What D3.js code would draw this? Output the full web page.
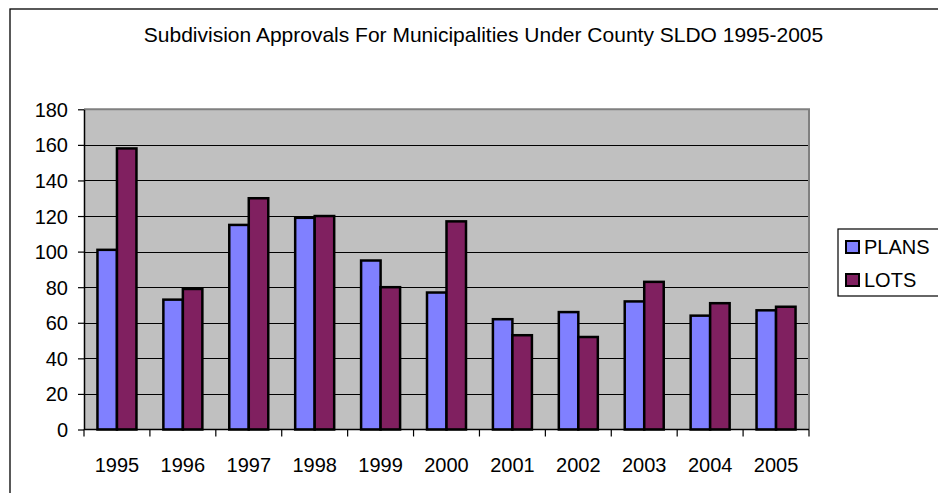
<!DOCTYPE html>
<html>
<head>
<meta charset="utf-8">
<script src="https://cdn.jsdelivr.net/npm/d3@7/dist/d3.min.js"></script>
<style>
  html, body { margin: 0; padding: 0; background: #fff; }
  svg { display: block; }
  text { font-family: "Liberation Sans", Arial, sans-serif; fill: #000; }
</style>
</head>
<body>
<svg id="chart" width="938" height="493"></svg>
<script>
const title = "Subdivision Approvals For Municipalities Under County SLDO 1995-2005";
const years = ["1995","1996","1997","1998","1999","2000","2001","2002","2003","2004","2005"];
const plans = [101, 73, 115, 119, 95, 77, 62, 66, 72, 64, 67];
const lots  = [158, 79, 130, 120, 80, 117, 53, 52, 83, 71, 69];
const seriesNames = ["PLANS", "LOTS"];
const seriesColors = ["#8080FF", "#802060"];
const yTicks = [0, 20, 40, 60, 80, 100, 120, 140, 160, 180];

const svg = d3.select("#chart");
const plot = { left: 84, right: 809, top: 109.3, bottom: 429.5 };

// outer chart frame (extends past right/bottom edge)
svg.append("rect").attr("x", 10).attr("y", 9).attr("width", 1200).attr("height", 1200)
  .attr("fill", "#fff").attr("stroke", "#000").attr("stroke-width", 1.3);

svg.append("text").attr("x", 483.5).attr("y", 42).attr("text-anchor", "middle")
  .style("font-size", "21px").text(title);

const x = d3.scaleBand().domain(years).range([plot.left, plot.right]);
const y = d3.scaleLinear().domain([0, 180]).range([plot.bottom, plot.top]);

// plot background
svg.append("rect").attr("x", plot.left).attr("y", plot.top)
  .attr("width", plot.right - plot.left).attr("height", plot.bottom - plot.top)
  .attr("fill", "#C0C0C0");

// gridlines
svg.append("g").selectAll("line").data(yTicks.filter(d => d > 0 && d < 180)).join("line")
  .attr("x1", plot.left).attr("x2", plot.right)
  .attr("y1", d => Math.round(y(d)) + 0.5).attr("y2", d => Math.round(y(d)) + 0.5)
  .attr("stroke", "#000").attr("stroke-width", 1);

// plot border (top/right gray)
svg.append("path")
  .attr("d", `M${plot.left},${plot.top}H${plot.right}V${plot.bottom}`)
  .attr("fill", "none").attr("stroke", "#808080").attr("stroke-width", 2);

// bars
const barW = 19.5;
const data = years.map((yr, i) => ({ yr, vals: [plans[i], lots[i]] }));
const groups = svg.append("g").selectAll("g").data(data).join("g");
groups.selectAll("rect").data(d => d.vals.map((v, k) => ({ yr: d.yr, v, k }))).join("rect")
  .attr("x", d => x(d.yr) + x.bandwidth() / 2 - barW + d.k * barW)
  .attr("y", d => y(d.v))
  .attr("width", barW)
  .attr("height", d => y(0) - y(d.v))
  .attr("fill", d => seriesColors[d.k])
  .attr("stroke", "#000").attr("stroke-width", 2.5);

// y axis
const yAxis = d3.axisLeft(y).tickValues(yTicks).tickSize(6).tickPadding(10).tickSizeOuter(0);
const gy = svg.append("g").attr("transform", `translate(${plot.left},0)`).call(yAxis);
gy.select(".domain").attr("stroke", "#000").attr("stroke-width", 1.5);
gy.selectAll(".tick line").attr("stroke", "#000").attr("stroke-width", 1.2);
gy.selectAll(".tick text").style("font-size", "20px").attr("font-family", null).attr("dy", "0.35em");

// x axis
const xAxis = d3.axisBottom(x).tickSize(0).tickPadding(28);
const gx = svg.append("g").attr("transform", `translate(0,${plot.bottom})`).call(xAxis);
gx.select(".domain").attr("d", `M${plot.left},0H${plot.right}`).attr("stroke", "#000").attr("stroke-width", 1.5);
gx.selectAll(".tick text").style("font-size", "20px").attr("font-family", null);
// category boundary tick marks
const bounds = years.map(yr => x(yr)).concat([plot.right]);
gx.append("g").selectAll("line").data(bounds).join("line")
  .attr("x1", d => d).attr("x2", d => d).attr("y1", 0).attr("y2", 7)
  .attr("stroke", "#000").attr("stroke-width", 1.2);

// legend
const lg = svg.append("g");
lg.append("rect").attr("x", 838).attr("y", 229).attr("width", 120).attr("height", 67)
  .attr("fill", "#fff").attr("stroke", "#000").attr("stroke-width", 1.2);
seriesNames.forEach((name, i) => {
  const yy = 241 + i * 33;
  lg.append("rect").attr("x", 846).attr("y", yy).attr("width", 13).attr("height", 12)
    .attr("fill", seriesColors[i]).attr("stroke", "#000").attr("stroke-width", 2);
  lg.append("text").attr("x", 864).attr("y", yy + 13).style("font-size", "20px").text(name);
});
</script>
</body>
</html>
